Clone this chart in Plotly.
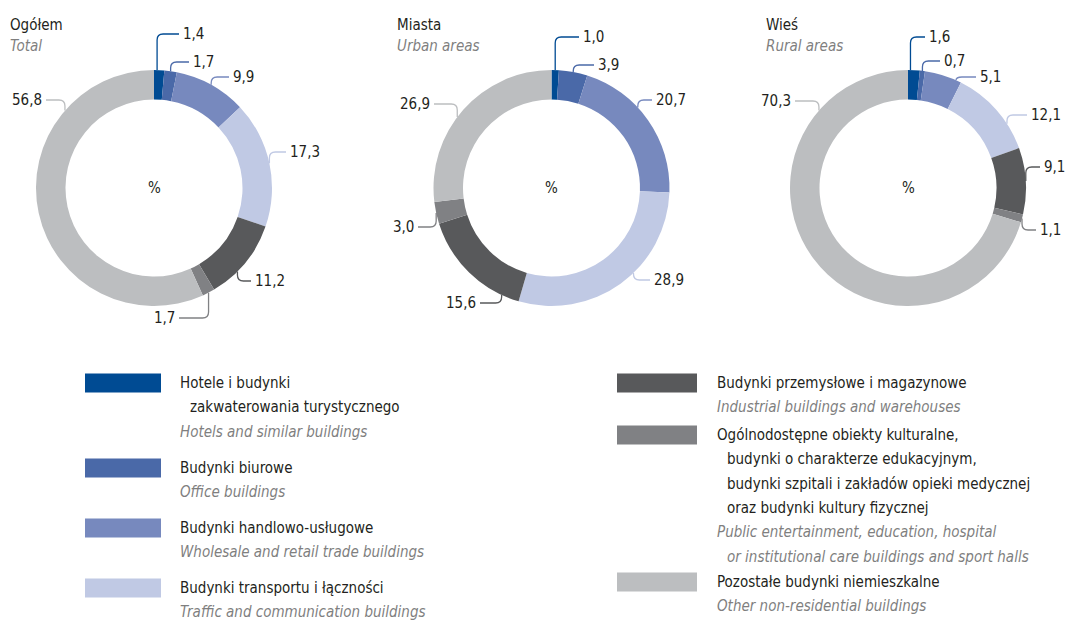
import math
import plotly.graph_objects as go

# ---------------- data ----------------
categories_pl = [
    ["Hotele i budynki", "zakwaterowania turystycznego"],
    ["Budynki biurowe"],
    ["Budynki handlowo-usługowe"],
    ["Budynki transportu i łączności"],
    ["Budynki przemysłowe i magazynowe"],
    ["Ogólnodostępne obiekty kulturalne,", "budynki o charakterze edukacyjnym,",
     "budynki szpitali i zakładów opieki medycznej", "oraz budynki kultury fizycznej"],
    ["Pozostałe budynki niemieszkalne"],
]
categories_en = [
    ["Hotels and similar buildings"],
    ["Office buildings"],
    ["Wholesale and retail trade buildings"],
    ["Traffic and communication buildings"],
    ["Industrial buildings and warehouses"],
    ["Public entertainment, education, hospital", "or institutional care buildings and sport halls"],
    ["Other non-residential buildings"],
]
colors = ["#004B93", "#4A69A8", "#7789BE", "#C0C9E4", "#58595B", "#808184", "#BCBEC0"]

titles_pl = ["Ogółem", "Miasta", "Wieś"]
titles_en = ["Total", "Urban areas", "Rural areas"]

total = [1.4, 1.7, 9.9, 17.3, 11.2, 1.7, 56.8]
urban = [1.0, 3.9, 20.7, 28.9, 15.6, 3.0, 26.9]
rural = [1.6, 0.7, 5.1, 12.1, 9.1, 1.1, 70.3]
series = [total, urban, rural]

# ---------------- layout (pixels) ----------------
W, H = 1065, 621
CENTERS = [(154, 188), (551.5, 188), (908, 188)]
R = 118
HOLE = 0.75
TITLE_X = [8, 395, 764]
# per label: (anchor angle override or None, label edge x, label y, side: 'r' text to right / 'l' text to left)
LABEL_LAYOUT = [
    [(1.5, 181, 34, 'r'), (None, 191, 62, 'r'), (None, 231, 77, 'r'), (None, 288, 152, 'r'),
     (135, 253, 281, 'r'), (None, 177, 318, 'l'), (311, 44, 100, 'l')],
    [(None, 581, 37, 'r'), (None, 596, 65, 'r'), (47, 654, 100, 'r'), (136, 652, 280, 'r'),
     (205, 478, 303, 'l'), (None, 416, 227, 'l'), (307, 432, 104, 'l')],
    [(1.2, 927, 37, 'r'), (None, 942, 61, 'r'), (24, 978, 77, 'r'), (57, 1029, 115, 'r'),
     (None, 1042, 167, 'r'), (None, 1038, 230, 'r'), (311, 793, 101, 'l')],
]

FONT = "DejaVu Sans Condensed, Liberation Sans Narrow, Arial Narrow, sans-serif"
FS = 15
TXT = "#231F20"
GREY = "#7F7F7F"


def px(x):
    return x / W


def py(y):
    return 1 - y / H


fig = go.Figure()
shapes = []
annotations = []

for k, vals in enumerate(series):
    cx, cy = CENTERS[k]
    fig.add_trace(go.Pie(
        values=vals,
        labels=[" ".join(c) for c in categories_pl],
        marker=dict(colors=colors, line=dict(width=0)),
        hole=HOLE, sort=False, direction="clockwise", rotation=0,
        textinfo="none", showlegend=False,
        domain=dict(x=[px(cx - R), px(cx + R)], y=[py(cy + R), py(cy - R)]),
    ))
    # centre "%"
    annotations.append(dict(x=px(cx), y=py(cy), text="%", showarrow=False,
                            xanchor="center", yanchor="middle",
                            font=dict(size=FS, color=TXT)))
    # titles
    annotations.append(dict(x=px(TITLE_X[k]), y=py(25), text=titles_pl[k], showarrow=False,
                            xanchor="left", yanchor="middle", font=dict(size=FS, color=TXT)))
    annotations.append(dict(x=px(TITLE_X[k]), y=py(46), text="<i>" + titles_en[k] + "</i>",
                            showarrow=False, xanchor="left", yanchor="middle",
                            font=dict(size=FS, color=GREY)))
    # value labels with leader lines
    tot = sum(vals)
    cum = 0.0
    for i, v in enumerate(vals):
        mid = (cum + v / 2) / tot * 360
        cum += v
        ang, lx, ly, side = LABEL_LAYOUT[k][i]
        a = math.radians(ang if ang is not None else mid)
        x0, y0 = cx + R * math.sin(a), cy - R * math.cos(a)
        cxr, cyr = x0, ly
        ex = lx - 2 if side == 'r' else lx + 2
        # rounded corner
        rc = 6
        d1 = abs(cyr - y0)
        d2 = abs(ex - cxr)
        r1 = min(rc, d1)
        r2 = min(rc, d2)
        sy = 1 if cyr > y0 else -1
        sx = 1 if ex > cxr else -1
        ax, ay = cxr, cyr - sy * r1
        bx, by = cxr + sx * r2, cyr
        path = (f"M {px(x0)},{py(y0)} L {px(ax)},{py(ay)} "
                f"Q {px(cxr)},{py(cyr)} {px(bx)},{py(by)} L {px(ex)},{py(ly)}")
        shapes.append(dict(type="path", path=path, xref="paper", yref="paper",
                           line=dict(color=colors[i], width=1.3)))
        annotations.append(dict(x=px(lx), y=py(ly), text=f"{v:.1f}".replace(".", ","),
                                showarrow=False, xanchor="left" if side == 'r' else "right",
                                yanchor="middle",
                                font=dict(size=FS, color=TXT)))

# ---------------- legend ----------------
LEG_COLS = [dict(sx0=85, sx1=161, tx=178), dict(sx0=617, sx1=697, tx=715)]
LEG_ITEMS = [(0, 0, 383), (0, 1, 468), (0, 2, 528), (0, 3, 588),
             (1, 4, 383), (1, 5, 435), (1, 6, 582)]
LINE = 24.3
INDENT = 10
for col, i, y in LEG_ITEMS:
    c = LEG_COLS[col]
    shapes.append(dict(type="rect", xref="paper", yref="paper",
                       x0=px(c["sx0"]), x1=px(c["sx1"]), y0=py(y - 9.5), y1=py(y + 9.5),
                       fillcolor=colors[i], line=dict(width=0)))
    yy = y
    for j, t in enumerate(categories_pl[i]):
        annotations.append(dict(x=px(c["tx"] + (INDENT if j > 0 else 0)), y=py(yy), text=t,
                                showarrow=False, xanchor="left", yanchor="middle",
                                font=dict(size=FS, color=TXT)))
        yy += LINE
    for j, t in enumerate(categories_en[i]):
        annotations.append(dict(x=px(c["tx"] + (INDENT if j > 0 else 0)), y=py(yy),
                                text="<i>" + t + "</i>",
                                showarrow=False, xanchor="left", yanchor="middle",
                                font=dict(size=FS, color=GREY)))
        yy += LINE

fig.update_layout(
    width=W, height=H,
    margin=dict(l=0, r=0, t=0, b=0),
    paper_bgcolor="white", plot_bgcolor="white",
    font=dict(family=FONT, size=FS, color=TXT),
    shapes=shapes, annotations=annotations,
)

fig.write_html("out.html", config={"displayModeBar": False},
               post_script="document.body.style.margin='0';document.body.style.overflow='hidden';")
